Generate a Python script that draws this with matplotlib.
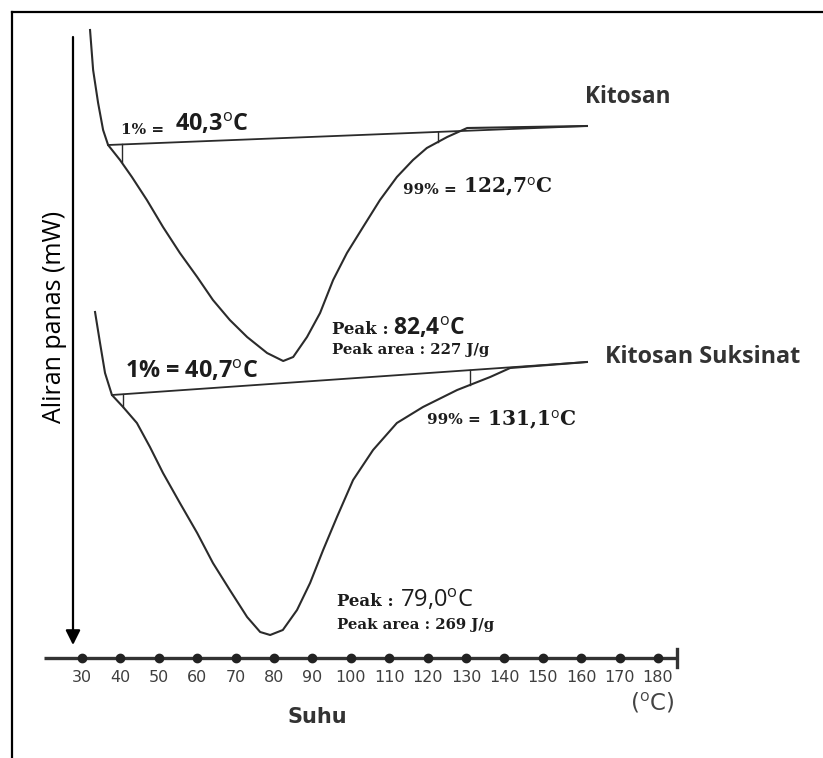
import numpy as np
import matplotlib.pyplot as plt
from matplotlib.lines import Line2D

plt.rcParams['mathtext.fontset'] = 'custom'
plt.rcParams['mathtext.rm'] = 'Open Sans'

# temperature axis (deg C)
temp_ticks = [30, 40, 50, 60, 70, 80, 90, 100, 110, 120, 130, 140, 150, 160, 170, 180]

# Kitosan thermogram, heat flow in arbitrary units (endotherm points down)
kit_t = [32.1, 32.9, 34.2, 35.5, 36.8, 39.9, 43.0, 46.9, 51.1, 55.5, 60.0, 64.1,
         68.5, 73.0, 78.2, 82.4, 85.0, 88.6, 92.0, 95.4, 99.0, 103.2, 107.6,
         112.0, 116.2, 119.8, 125.1, 130.3, 161.5]
kit_q = [62.8, 58.8, 55.5, 52.8, 51.3, 49.8, 48.1, 45.8, 43.1, 40.5, 38.1, 35.8,
         33.8, 32.1, 30.5, 29.7, 30.1, 32.1, 34.5, 37.8, 40.5, 43.1, 45.8,
         48.1, 49.8, 51.0, 52.1, 53.0, 53.2]
kit_base_t = [36.8, 161.5]
kit_base_q = [51.3, 53.2]
kit_onset, kit_endset, kit_peak, kit_area = 40.3, 122.7, 82.4, 227

# Kitosan Suksinat thermogram
suk_t = [33.4, 34.7, 36.0, 37.8, 40.7, 44.3, 47.7, 51.1, 55.5, 60.0, 64.1, 68.5,
         73.0, 76.4, 79.0, 82.3, 86.0, 89.4, 92.8, 96.4, 100.6, 105.8, 112.0,
         118.8, 127.7, 136.3, 141.5, 161.5]
suk_q = [34.6, 31.5, 28.5, 26.3, 25.1, 23.5, 21.1, 18.5, 15.5, 12.5, 9.5, 6.8,
         4.1, 2.6, 2.3, 2.8, 4.8, 7.5, 10.8, 14.1, 17.8, 20.8, 23.5,
         25.1, 26.8, 28.1, 29.0, 29.6]
suk_base_t = [37.8, 161.5]
suk_base_q = [26.3, 29.6]
suk_onset, suk_endset, suk_peak, suk_area = 40.7, 131.1, 79.0, 269

INK = '#2b2b2b'
TXT = '#1c1c1c'
SERIF = 'DejaVu Serif'
SANS = 'Open Sans'


def num(v):
    return f'{v:.1f}'.replace('.', ',')


def deg(v):
    return num(v) + r'$^{\rm o}$C'


fig = plt.figure(figsize=(8.23, 7.58), dpi=100)
ax = fig.add_axes([0, 0, 1, 1])
ax.set_xlim(8.65, 222.97)
ax.set_ylim(-10, 65.8)
ax.axis('off')

# frame around the figure
fig.add_artist(Line2D([11.5 / 823, 11.5 / 823], [0, 1 - 11.5 / 758],
                      transform=fig.transFigure, color='black', lw=1.6))
fig.add_artist(Line2D([11.5 / 823, 1], [1 - 11.5 / 758, 1 - 11.5 / 758],
                      transform=fig.transFigure, color='black', lw=1.6))


def thermogram(t, q, bt, bq, onset, endset):
    ax.plot(t, q, color=INK, lw=1.5, solid_joinstyle='round')
    ax.plot(bt, bq, color=INK, lw=1.3)
    for x in (onset, endset):
        qb = np.interp(x, bt, bq)
        qc = np.interp(x, t, q)
        ax.plot([x, x], [qb, qc], color=INK, lw=1.0)


thermogram(kit_t, kit_q, kit_base_t, kit_base_q, kit_onset, kit_endset)
thermogram(suk_t, suk_q, suk_base_t, suk_base_q, suk_onset, suk_endset)

# temperature axis with dots
ax.plot([20, 185], [0, 0], color='#333333', lw=2.4, solid_capstyle='butt')
ax.plot([185, 185], [-0.9, 0.9], color='#333333', lw=2.4)
ax.plot(temp_ticks, np.zeros(len(temp_ticks)), 'o', ms=6, color='#222222')
for t in temp_ticks:
    ax.text(t, -1.9, str(t), ha='center', va='center', fontsize=11.5,
            color='#3f3f3f', family='DejaVu Sans')
ax.text(91.2, -5.9, 'Suhu', ha='center', va='center', fontsize=15,
        fontweight='bold', color='#333333', family='DejaVu Sans')
ax.text(178.5, -4.5, r'($^{\rm o}$C)', ha='center', va='center', fontsize=16.5,
        color='#444444', family='DejaVu Sans')

# heat flow arrow
ax.annotate('', xy=(27.66, 1.3), xytext=(27.66, 62.1),
            arrowprops=dict(arrowstyle='-|>', color='black', lw=1.6,
                            mutation_scale=22, shrinkA=0, shrinkB=0))
ax.text(22.9, 34.1, 'Aliran panas (mW)', rotation=90, ha='center', va='center',
        fontsize=18, color='black', family=SANS)

# Kitosan annotations
ax.text(161.0, 56.1, 'Kitosan', fontsize=16.3, fontweight='bold',
        color='#333333', family=SANS, va='center')
ax.text(40.2, 52.8, '1% =', fontsize=11, fontweight='bold', color=TXT,
        family=SERIF, va='center')
ax.text(54.2, 53.4, deg(kit_onset), fontsize=16.8, fontweight='bold',
        color=TXT, family=SANS, va='center')
ax.text(113.6, 46.8, '99% =', fontsize=11, fontweight='bold', color=TXT,
        family=SERIF, va='center')
ax.text(129.2, 47.1, deg(kit_endset), fontsize=14.5, fontweight='bold',
        color=TXT, family=SERIF, va='center')
ax.text(95.1, 32.8, 'Peak :', fontsize=12, fontweight='bold', color=TXT,
        family=SERIF, va='center')
ax.text(111.0, 33.0, deg(kit_peak), fontsize=16.5, fontweight='bold',
        color=TXT, family=SANS, va='center')
ax.text(95.1, 30.8, f'Peak area : {kit_area} J/g', fontsize=10.7,
        fontweight='bold', color=TXT, family=SERIF, va='center')

# Kitosan Suksinat annotations
ax.text(166.2, 30.1, 'Kitosan Suksinat', fontsize=16.8, fontweight='bold',
        color='#333333', family=SANS, va='center')
ax.text(41.2, 28.7, '1% = ' + deg(suk_onset), fontsize=16.8, fontweight='bold',
        color=TXT, family=SANS, va='center')
ax.text(119.8, 23.8, '99% =', fontsize=11, fontweight='bold', color=TXT,
        family=SERIF, va='center')
ax.text(135.5, 23.8, deg(suk_endset), fontsize=14.5, fontweight='bold',
        color=TXT, family=SERIF, va='center')
ax.text(96.4, 5.6, 'Peak :', fontsize=12, fontweight='bold', color=TXT,
        family=SERIF, va='center')
ax.text(112.8, 5.8, deg(suk_peak), fontsize=17, color=TXT, family=SANS,
        va='center')
ax.text(96.4, 3.3, f'Peak area : {suk_area} J/g', fontsize=10.7,
        fontweight='bold', color=TXT, family=SERIF, va='center')

fig.savefig('out.png', dpi=100)
